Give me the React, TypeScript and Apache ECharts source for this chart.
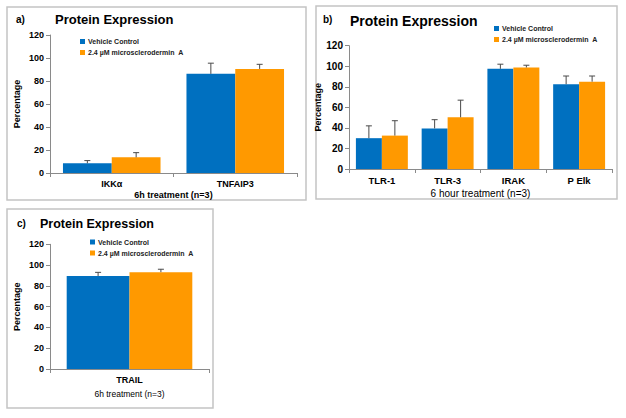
import React, { useEffect, useRef } from 'react';
import * as echarts from 'echarts';

// ---------- data ----------
const seriesNames = ['Vehicle Control', '2.4 µM microsclerodermin  A'];

const categoriesA = ['IKKα', 'TNFAIP3'];
const vehicleA = [8.4, 86.2];
const vehicleErrA = [2.4, 9.3];
const treatedA = [13.6, 90.5];
const treatedErrA = [4.1, 4.0];

const categoriesB = ['TLR-1', 'TLR-3', 'IRAK', 'P Elk'];
const vehicleB = [30, 39.5, 97.5, 82.5];
const vehicleErrB = [12, 8.5, 4.5, 8];
const treatedB = [32.5, 50.3, 98.8, 85];
const treatedErrB = [14.5, 16.7, 2.2, 5.5];

const categoriesC = ['TRAIL'];
const vehicleC = [89.5];
const vehicleErrC = [3.5];
const treatedC = [93.2];
const treatedErrC = [2.8];

const yMin = 0;
const yMax = 120;
const yStep = 20;

const panelLabels = ['a)', 'b)', 'c)'];
const titleText = 'Protein Expression';
const xNames = ['6h treatment (n=3)', '6 hour treatment (n=3)', '6h treatment (n=3)'];
const yName = 'Percentage';

// ---------- style ----------
const FONT = '"Liberation Sans", Arial, Helvetica, sans-serif';
const BLUE = '#0070C0';
const ORANGE = '#FF9900';
const AXIS = '#8a8a8a';
const ERR = '#4a4a4a';
const GAP = 0.21;

const panels = [
  {
    cats: categoriesA, v: vehicleA, ve: vehicleErrA, t: treatedA, te: treatedErrA,
    grid: { left: 50, top: 35, width: 247, height: 138 },
    legend: { left: 80, top: 37.5 },
    tickSize: 9, catSize: 9, yNameGap: 29, xNameGap: 17, xNameSize: 9, xNameWeight: 'bold',
    box: { x: 7, y: 7, w: 299, h: 193 },
    lab: { x: 16, y: 14, s: 10 }, title: { x: 55, y: 12.5, s: 13 },
  },
  {
    cats: categoriesB, v: vehicleB, ve: vehicleErrB, t: treatedB, te: treatedErrB,
    grid: { left: 349, top: 45.7, width: 263, height: 123.3 },
    legend: { left: 494, top: 24.5 },
    tickSize: 10, catSize: 9.5, yNameGap: 27, xNameGap: 19, xNameSize: 10, xNameWeight: 'normal',
    box: { x: 316, y: 6, w: 301, h: 193 },
    lab: { x: 323, y: 14, s: 10 }, title: { x: 350, y: 14, s: 14 },
  },
  {
    cats: categoriesC, v: vehicleC, ve: vehicleErrC, t: treatedC, te: treatedErrC,
    grid: { left: 50, top: 244.3, width: 159, height: 124.7 },
    legend: { left: 90, top: 238 },
    tickSize: 9, catSize: 9, yNameGap: 29, xNameGap: 20, xNameSize: 8.5, xNameWeight: 'normal',
    box: { x: 7, y: 209, w: 206, h: 199 },
    lab: { x: 17, y: 218, s: 10 }, title: { x: 40, y: 217.5, s: 12.5 },
  },
];

function errorRenderer(side: number) {
  return (params: any, api: any) => {
    const idx = api.value(0);
    const val = api.value(1);
    const err = api.value(2);
    const band = api.size([1, 0])[0];
    const barW = (band * (1 - GAP)) / 2;
    const base = api.coord([idx, val]);
    const top = api.coord([idx, val + err]);
    const x = base[0] + (side * barW) / 2;
    const cap = 3;
    return {
      type: 'group',
      children: [
        { type: 'line', shape: { x1: x, y1: base[1], x2: x, y2: top[1] }, style: { stroke: ERR, lineWidth: 1 } },
        { type: 'line', shape: { x1: x - cap, y1: top[1], x2: x + cap, y2: top[1] }, style: { stroke: ERR, lineWidth: 1 } },
      ],
    };
  };
}

export default function App() {
  const ref = useRef<HTMLDivElement>(null);

  useEffect(() => {
    if (!ref.current) return;
    const chart = echarts.init(ref.current, undefined, { renderer: 'svg' });

    const grid: any[] = [];
    const xAxis: any[] = [];
    const yAxis: any[] = [];
    const series: any[] = [];
    const legend: any[] = [];
    const graphic: any[] = [];

    panels.forEach((p, i) => {
      grid.push({ ...p.grid, containLabel: false });
      xAxis.push({
        type: 'category',
        gridIndex: i,
        data: p.cats,
        axisLine: { show: true, lineStyle: { color: AXIS, width: 1 } },
        axisTick: { show: true, alignWithLabel: false, length: 4, interval: 0, lineStyle: { color: AXIS } },
        axisLabel: { interval: 0, margin: 6, color: '#000', fontFamily: FONT, fontWeight: 'bold', fontSize: p.catSize },
        name: xNames[i],
        nameLocation: 'middle',
        nameGap: p.xNameGap,
        nameTextStyle: { color: '#000', fontFamily: FONT, fontWeight: p.xNameWeight, fontSize: p.xNameSize, verticalAlign: 'top' },
        splitLine: { show: false },
      });
      yAxis.push({
        type: 'value',
        gridIndex: i,
        min: yMin,
        max: yMax,
        interval: yStep,
        axisLine: { show: true, lineStyle: { color: AXIS, width: 1 } },
        axisTick: { show: true, length: 4, lineStyle: { color: AXIS } },
        axisLabel: { margin: 6, color: '#000', fontFamily: FONT, fontWeight: 'bold', fontSize: p.tickSize },
        splitLine: { show: false },
        name: yName,
        nameLocation: 'middle',
        nameGap: p.yNameGap,
        nameTextStyle: { color: '#000', fontFamily: FONT, fontWeight: 'bold', fontSize: 9 },
      });
      series.push(
        {
          type: 'bar', name: seriesNames[0], xAxisIndex: i, yAxisIndex: i, data: p.v,
          itemStyle: { color: BLUE }, barGap: '0%', barCategoryGap: GAP * 100 + '%',
        },
        {
          type: 'bar', name: seriesNames[1], xAxisIndex: i, yAxisIndex: i, data: p.t,
          itemStyle: { color: ORANGE }, barGap: '0%', barCategoryGap: GAP * 100 + '%',
        },
        {
          type: 'custom', xAxisIndex: i, yAxisIndex: i, z: 5,
          renderItem: errorRenderer(-1),
          encode: { x: 0, y: 1 },
          data: p.v.map((val, k) => [k, val, p.ve[k]]),
        },
        {
          type: 'custom', xAxisIndex: i, yAxisIndex: i, z: 5,
          renderItem: errorRenderer(1),
          encode: { x: 0, y: 1 },
          data: p.t.map((val, k) => [k, val, p.te[k]]),
        },
      );
      legend.push({
        left: p.legend.left,
        top: p.legend.top,
        orient: 'vertical',
        padding: 0,
        itemGap: 3,
        itemWidth: 5,
        itemHeight: 5,
        icon: 'rect',
        selectedMode: false,
        data: seriesNames,
        textStyle: { color: '#222', fontFamily: FONT, fontWeight: 'bold', fontSize: 7, lineHeight: 8, padding: [0, 0, 0, -2] },
      });
      graphic.push(
        {
          type: 'rect',
          shape: { x: p.box.x, y: p.box.y, width: p.box.w, height: p.box.h },
          style: { fill: 'none', stroke: '#c4c4c4', lineWidth: 1.5 },
          silent: true,
        },
        {
          type: 'text', x: p.lab.x, y: p.lab.y,
          style: { text: panelLabels[i], fill: '#000', font: `bold ${p.lab.s}px ${FONT}`, textVerticalAlign: 'top' },
        },
        {
          type: 'text', x: p.title.x, y: p.title.y,
          style: { text: titleText, fill: '#000', font: `bold ${p.title.s}px ${FONT}`, textVerticalAlign: 'top' },
        },
      );
    });

    chart.setOption({
      animation: false,
      backgroundColor: '#fff',
      textStyle: { fontFamily: FONT },
      grid,
      xAxis,
      yAxis,
      series,
      legend,
      graphic,
    });

    return () => chart.dispose();
  }, []);

  return (
    <div
      ref={ref}
      style={{ position: 'fixed', left: 0, top: 0, width: 626, height: 418, background: '#fff' }}
    />
  );
}
